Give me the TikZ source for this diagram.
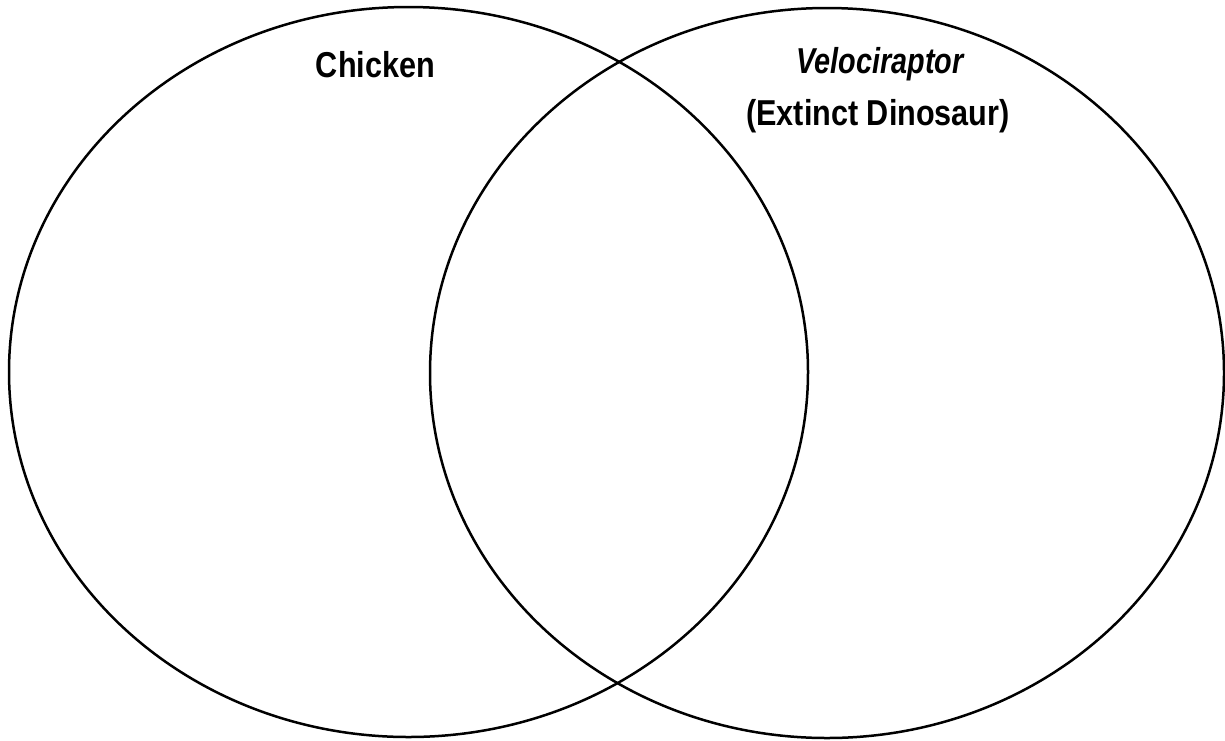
\documentclass[tikz,border=0pt]{standalone}
\usepackage{fontspec}
\setmainfont{Liberation Sans}[FakeStretch=0.85]
\newfontfamily\velofont{Liberation Sans}[FakeStretch=0.8]
\begin{document}
\begin{tikzpicture}[x=1pt,y=-1pt,
  venn/.style={draw=black, line width=2.5pt},
  lbl/.style={font=\fontsize{36}{52}\selectfont\bfseries, align=center, inner sep=0pt}]
\useasboundingbox (0,0) rectangle (1225,740);
\draw[venn] (408.5,372) ellipse [x radius=399.5pt, y radius=365pt];
\draw[venn] (827,373) ellipse [x radius=397pt, y radius=365pt];
\node[lbl, anchor=base] (chicken) at (375.5,77) {Chicken};
\node[lbl, anchor=base] (velo) at (880,73) {\velofont\bfseries\itshape Velociraptor};
\node[lbl, anchor=base] (extinct) at (878,125) {(Extinct Dinosaur)};
\end{tikzpicture}
\end{document}
